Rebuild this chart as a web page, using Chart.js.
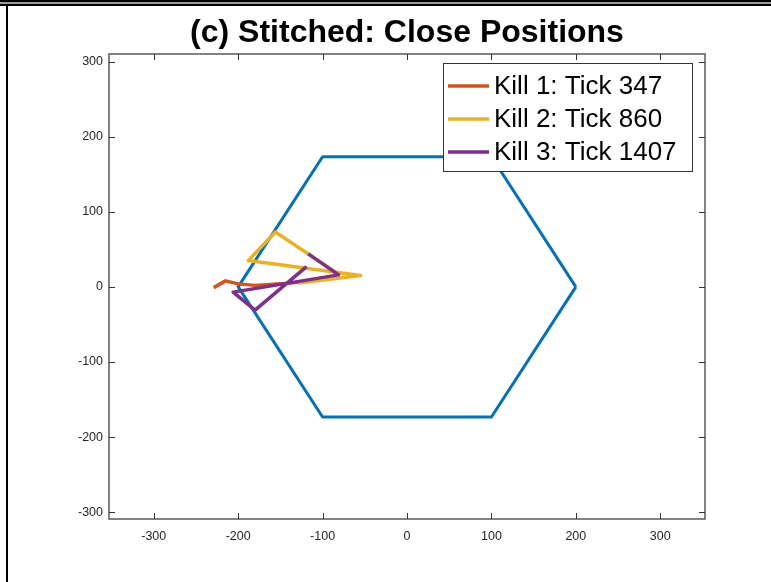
<!DOCTYPE html>
<html>
<head>
<meta charset="utf-8">
<script src="https://cdn.jsdelivr.net/npm/chart.js@4.4.1/dist/chart.umd.min.js"></script>
<style>
  html, body { margin: 0; padding: 0; background: #fff; }
  canvas { display: block; }
</style>
</head>
<body>
<canvas id="chart" width="771" height="582"></canvas>
<script>
// datos
const titleText = '(c) Stitched: Close Positions';
const tickValues = [-300, -200, -100, 0, 100, 200, 300];
const xRange = [-353, 353];
const yRange = [-309, 310];

// hexágono (arena)
const hexX = [200, 100, -100, -200, -100, 100, 200];
const hexY = [0, 173.2, 173.2, 0, -173.2, -173.2, 0];

// trayectorias
const kill1X = [-229, -215, -200, -180, -150, -120];
const kill1Y = [-1, 8, 4, 2, 4, 7];
const kill2X = [-129, -55, -188, -156, -81];
const kill2Y = [5, 15, 35, 73, 17];
const kill3X = [-119, -180, -206, -81, -117];
const kill3Y = [27, -31, -7, 16, 44];

const legendLabels = ['Kill 1: Tick 347', 'Kill 2: Tick 860', 'Kill 3: Tick 1407'];
const killColors = ['#D95319', '#EDB120', '#7E2F8E'];
const hexColor = '#0072BD';
const axisColor = '#5a5a5a';
const textColor = '#262626';

function toPoints(xs, ys) {
    return xs.map((x, i) => ({ x: x, y: ys[i] }));
}

function lineSet(label, xs, ys, color, order, width) {
    return {
        label: label,
        data: toPoints(xs, ys),
        showLine: true,
        borderColor: color,
        backgroundColor: color,
        borderWidth: width,
        pointRadius: 0,
        tension: 0,
        borderJoinStyle: 'round',
        order: order
    };
}

// marco, título, caja de ejes y leyenda
const figurePlugin = {
    id: 'figure',
    beforeDraw(chart) {
        const ctx = chart.ctx;
        ctx.save();
        ctx.fillStyle = '#fff';
        ctx.fillRect(0, 0, chart.width, chart.height);
        ctx.fillStyle = '#000';
        ctx.fillRect(0, 0, chart.width, 2);
        ctx.fillStyle = '#999';
        ctx.fillRect(0, 2, chart.width, 2);
        ctx.fillStyle = '#000';
        ctx.fillRect(0, 4, chart.width, 2);
        ctx.fillRect(6, 6, 2, chart.height - 6);

        const area = chart.chartArea;
        ctx.fillStyle = '#000';
        ctx.font = 'bold 32px "Liberation Sans", Arial, sans-serif';
        ctx.textAlign = 'center';
        ctx.textBaseline = 'middle';
        ctx.fillText(titleText, (area.left + area.right) / 2, 33);
        ctx.restore();
    },
    afterDraw(chart) {
        const ctx = chart.ctx;
        const area = chart.chartArea;
        const xs = chart.scales.x;
        const ys = chart.scales.y;
        ctx.save();
        ctx.strokeStyle = axisColor;
        ctx.lineWidth = 1.5;
        ctx.strokeRect(area.left, area.top, area.right - area.left, area.bottom - area.top);

        // marcas hacia adentro en los cuatro lados
        const tl = 6;
        ctx.lineWidth = 1;
        ctx.strokeStyle = '#333';
        ctx.beginPath();
        tickValues.forEach(v => {
            const px = Math.round(xs.getPixelForValue(v)) + 0.5;
            ctx.moveTo(px, area.bottom);
            ctx.lineTo(px, area.bottom - tl);
            ctx.moveTo(px, area.top);
            ctx.lineTo(px, area.top + tl);
            const py = Math.round(ys.getPixelForValue(v)) + 0.5;
            ctx.moveTo(area.left, py);
            ctx.lineTo(area.left + tl, py);
            ctx.moveTo(area.right, py);
            ctx.lineTo(area.right - tl, py);
        });
        ctx.stroke();

        // leyenda
        const box = { left: 443, top: 63, width: 249, height: 108 };
        ctx.fillStyle = '#fff';
        ctx.fillRect(box.left, box.top, box.width, box.height);
        ctx.strokeStyle = '#333';
        ctx.lineWidth = 1;
        ctx.strokeRect(box.left + 0.5, box.top + 0.5, box.width, box.height);
        ctx.font = '26px "Liberation Sans", Arial, sans-serif';
        ctx.textAlign = 'left';
        ctx.textBaseline = 'middle';
        legendLabels.forEach((lbl, i) => {
            const y = box.top + 23 + i * 33;
            ctx.strokeStyle = killColors[i];
            ctx.lineWidth = 3.5;
            ctx.beginPath();
            ctx.moveTo(box.left + 5, y);
            ctx.lineTo(box.left + 46, y);
            ctx.stroke();
            ctx.fillStyle = '#000';
            ctx.fillText(lbl, box.left + 51, y + 1);
        });
        ctx.restore();
    }
};

const ctx = document.getElementById('chart').getContext('2d');
new Chart(ctx, {
    type: 'scatter',
    data: {
        datasets: [
            lineSet('Arena', hexX, hexY, hexColor, 3, 3),
            lineSet(legendLabels[0], kill1X, kill1Y, killColors[0], 2, 3.5),
            lineSet(legendLabels[1], kill2X, kill2Y, killColors[1], 1, 3.5),
            lineSet(legendLabels[2], kill3X, kill3Y, killColors[2], 0, 3.5)
        ]
    },
    options: {
        responsive: false,
        animation: false,
        layout: { padding: { left: 0, right: 66, top: 54, bottom: 33 } },
        plugins: {
            legend: { display: false },
            title: { display: false },
            tooltip: { enabled: false }
        },
        scales: {
            x: {
                type: 'linear',
                min: xRange[0],
                max: xRange[1],
                grid: { display: false, drawTicks: false },
                border: { display: false },
                afterBuildTicks: s => { s.ticks = tickValues.map(v => ({ value: v })); },
                afterFit: s => { s.height = 30; },
                ticks: {
                    padding: 10,
                    color: textColor,
                    maxRotation: 0,
                    font: { family: '"Liberation Sans", Arial, sans-serif', size: 12.5 }
                }
            },
            y: {
                type: 'linear',
                min: yRange[0],
                max: yRange[1],
                grid: { display: false, drawTicks: false },
                border: { display: false },
                afterBuildTicks: s => { s.ticks = tickValues.map(v => ({ value: v })); },
                afterFit: s => { s.width = 109; },
                ticks: {
                    padding: 6,
                    color: textColor,
                    font: { family: '"Liberation Sans", Arial, sans-serif', size: 12.5 }
                }
            }
        }
    },
    plugins: [figurePlugin]
});
</script>
</body>
</html>
